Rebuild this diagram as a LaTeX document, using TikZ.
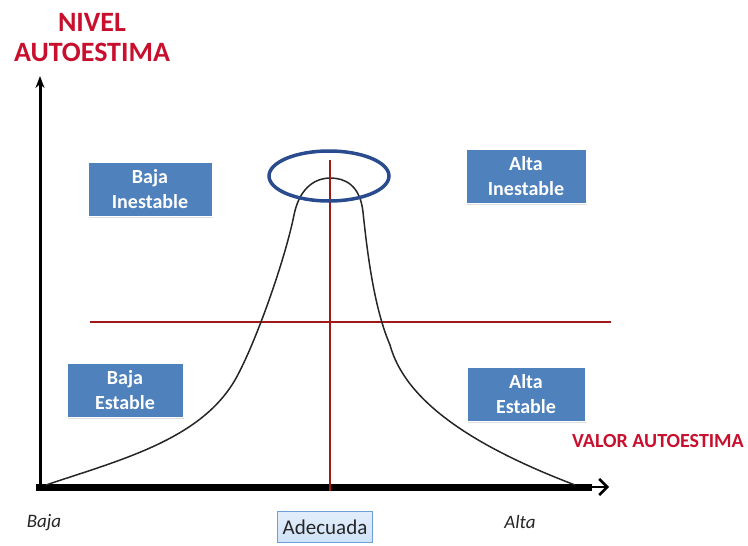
\documentclass[tikz,border=0pt]{standalone}
\usepackage{fontspec}
\setmainfont{Carlito}
\usetikzlibrary{arrows.meta,shadows}
\definecolor{titlered}{HTML}{C8102E}
\definecolor{axisred}{HTML}{A01818}
\definecolor{ringblue}{HTML}{2A4B8D}
\definecolor{boxblue}{HTML}{4F81BD}
\definecolor{tagfill}{HTML}{CFE2F8}
\definecolor{tagedge}{HTML}{6F9FD8}
\tikzset{
  zonebox/.style={draw=white, line width=1pt, fill=boxblue, text=white,
    font=\fontsize{20}{25}\selectfont\bfseries, align=center,
    minimum height=54pt, inner sep=2pt,
    drop shadow={shadow xshift=1pt, shadow yshift=-2pt, opacity=0.25}},
  redtitle/.style={text=titlered, font=\fontsize{28}{30}\selectfont\bfseries},
  endlabel/.style={font=\fontsize{19}{22}\selectfont\itshape, text=black!85},
}
\begin{document}
\begin{tikzpicture}[x=1pt,y=-1pt]
\useasboundingbox (0,0) rectangle (748,546);
% titles
\node[redtitle] (nivel) at (92,22) {NIVEL};
\node[redtitle] (auto) at (92,52) {AUTOESTIMA};
\node[text=titlered, font=\fontsize{20}{22}\selectfont\bfseries] (valor) at (658,441) {VALOR AUTOESTIMA};
% axes
\coordinate (ytop) at (40,76);
\coordinate (xend) at (609,487);
\draw[line width=3pt, -{Stealth[length=12pt,width=9pt]}] (40,490) -- (ytop);
\draw[line width=7pt] (36,487) -- (592,487);
\draw[line width=2.5pt, line cap=round, -{Straight Barb[length=8pt,width=16pt]}] (586,487) -- (xend);
% reference lines
\coordinate (hl) at (90,322);
\coordinate (hr) at (611,322);
\coordinate (vt) at (330,160);
\coordinate (vb) at (330,491);
\draw[axisred, line width=1.3pt] (hl) -- (hr);
% bell curve
\draw[black!85, line width=1.5pt]
  (46,485) .. controls (120,460) and (200,440) .. (235,380)
  .. controls (255,345) and (285,260) .. (294,215)
  .. controls (300,185) and (318,178) .. (330,178)
  .. controls (345,178) and (360,185) .. (363,212)
  .. controls (368,260) and (375,310) .. (390,345)
  .. controls (405,400) and (470,445) .. (575,485);
\draw[axisred, line width=1.3pt] (vt) -- (vb);
% ring around the peak
\draw[ringblue, line width=3.5pt] (329,176) ellipse (60 and 25);
% zone boxes
\node[zonebox, minimum width=124pt] (bi) at (150,189) {Baja\\Inestable};
\node[zonebox, minimum width=120pt] (ai) at (526,176) {Alta\\Inestable};
\node[zonebox, minimum width=116pt] (be) at (125,390) {Baja\\Estable};
\node[zonebox, minimum width=118pt] (ae) at (526,394) {Alta\\Estable};
% bottom labels
\node[endlabel] (baja) at (44,523) {Baja};
\node[endlabel] (alta) at (520,522) {Alta};
\node[draw=tagedge, line width=0.8pt, top color=tagfill!60, bottom color=tagfill,
  minimum width=95pt, minimum height=31pt, font=\fontsize{21}{24}\selectfont, text=black!85]
  (adec) at (325,527) {Adecuada};
\end{tikzpicture}
\end{document}
